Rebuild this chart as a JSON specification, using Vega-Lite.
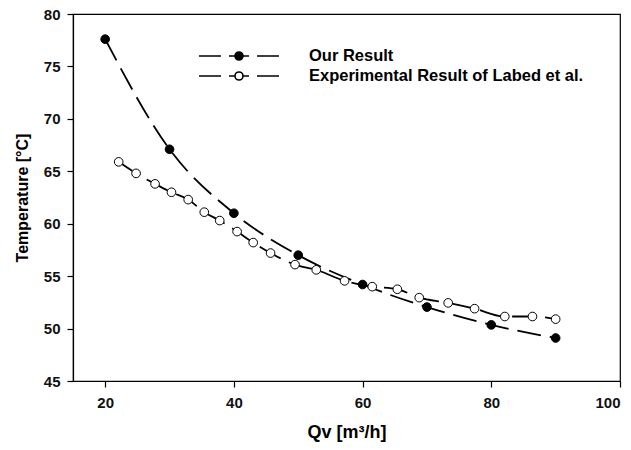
{
  "$schema": "https://vega.github.io/schema/vega-lite/v6.json",
  "width": 547,
  "height": 367,
  "autosize": {"type": "none"},
  "padding": {"left": 73, "top": 14, "right": 11, "bottom": 69},
  "background": "white",
  "config": {
    "font": "Liberation Sans",
    "view": {"stroke": "black", "strokeWidth": 1.2},
    "axis": {
      "domainColor": "black",
      "domainWidth": 1.2,
      "tickColor": "black",
      "tickWidth": 1.2,
      "tickSize": 6,
      "labelFont": "Liberation Sans",
      "labelFontSize": 15,
      "labelFontWeight": "bold",
      "labelColor": "#111",
      "titleFont": "Liberation Sans",
      "titleFontSize": 16,
      "titleFontWeight": "bold",
      "titleColor": "black",
      "grid": false
    }
  },
  "data": {
    "values": [
      {"series": "Our Result", "qv": 20, "t": 77.6},
      {"series": "Our Result", "qv": 30, "t": 67.1},
      {"series": "Our Result", "qv": 40, "t": 61.0},
      {"series": "Our Result", "qv": 50, "t": 57.0},
      {"series": "Our Result", "qv": 60, "t": 54.2},
      {"series": "Our Result", "qv": 70, "t": 52.05},
      {"series": "Our Result", "qv": 80, "t": 50.35},
      {"series": "Our Result", "qv": 90, "t": 49.1},
      {"series": "Experimental Result of Labed et al.", "qv": 22.1, "t": 65.9},
      {"series": "Experimental Result of Labed et al.", "qv": 24.8, "t": 64.8},
      {"series": "Experimental Result of Labed et al.", "qv": 27.75, "t": 63.8},
      {"series": "Experimental Result of Labed et al.", "qv": 30.3, "t": 63.0},
      {"series": "Experimental Result of Labed et al.", "qv": 32.9, "t": 62.3},
      {"series": "Experimental Result of Labed et al.", "qv": 35.4, "t": 61.1},
      {"series": "Experimental Result of Labed et al.", "qv": 37.8, "t": 60.3},
      {"series": "Experimental Result of Labed et al.", "qv": 40.5, "t": 59.25},
      {"series": "Experimental Result of Labed et al.", "qv": 43.0, "t": 58.2},
      {"series": "Experimental Result of Labed et al.", "qv": 45.7, "t": 57.2},
      {"series": "Experimental Result of Labed et al.", "qv": 49.5, "t": 56.1},
      {"series": "Experimental Result of Labed et al.", "qv": 52.8, "t": 55.6},
      {"series": "Experimental Result of Labed et al.", "qv": 57.2, "t": 54.55},
      {"series": "Experimental Result of Labed et al.", "qv": 61.5, "t": 54.0},
      {"series": "Experimental Result of Labed et al.", "qv": 65.4, "t": 53.75},
      {"series": "Experimental Result of Labed et al.", "qv": 68.8, "t": 52.95},
      {"series": "Experimental Result of Labed et al.", "qv": 73.3, "t": 52.45},
      {"series": "Experimental Result of Labed et al.", "qv": 77.4, "t": 51.9},
      {"series": "Experimental Result of Labed et al.", "qv": 82.1, "t": 51.15},
      {"series": "Experimental Result of Labed et al.", "qv": 86.4, "t": 51.15},
      {"series": "Experimental Result of Labed et al.", "qv": 90.0, "t": 50.9}
    ]
  },
  "encoding": {
    "x": {
      "field": "qv",
      "type": "quantitative",
      "title": "Qv [m³/h]",
      "scale": {"domain": [15, 100], "nice": false, "zero": false},
      "axis": {"values": [20, 40, 60, 80, 100], "labelPadding": 8, "titlePadding": 13, "titleFontSize": 18}
    },
    "y": {
      "field": "t",
      "type": "quantitative",
      "title": "Temperature [°C]",
      "scale": {"domain": [45, 80], "nice": false, "zero": false},
      "axis": {"values": [45, 50, 55, 60, 65, 70, 75, 80], "labelPadding": 7, "titlePadding": 13}
    }
  },
  "layer": [
    {
      "mark": {"type": "line", "interpolate": "monotone", "strokeDash": [24, 9], "strokeWidth": 1.8, "color": "black"},
      "encoding": {"detail": {"field": "series"}}
    },
    {
      "mark": {"type": "point", "shape": "circle", "filled": true, "size": 75, "stroke": "black", "strokeWidth": 1, "opacity": 1},
      "encoding": {
        "fill": {
          "field": "series",
          "type": "nominal",
          "scale": {"domain": ["Our Result", "Experimental Result of Labed et al."], "range": ["black", "white"]},
          "legend": {
            "title": null,
            "orient": "none",
            "legendX": 155,
            "legendY": 31,
            "padding": 0,
            "rowPadding": 0,
            "symbolType": "M -4 0 H -1.8 M -1 0 H -0.4 M 0.4 0 H 1 M 0.4 0 A 0.4 0.4 0 1 1 -0.4 0 A 0.4 0.4 0 1 1 0.4 0 M 1.8 0 H 4",
            "symbolSize": 400,
            "symbolStrokeColor": "black",
            "symbolStrokeWidth": 1.6,
            "labelFont": "Liberation Sans",
            "labelFontSize": 16.5,
            "labelFontWeight": "bold",
            "labelColor": "black",
            "labelOffset": 59,
            "labelLimit": 400
          }
        }
      }
    }
  ]
}
